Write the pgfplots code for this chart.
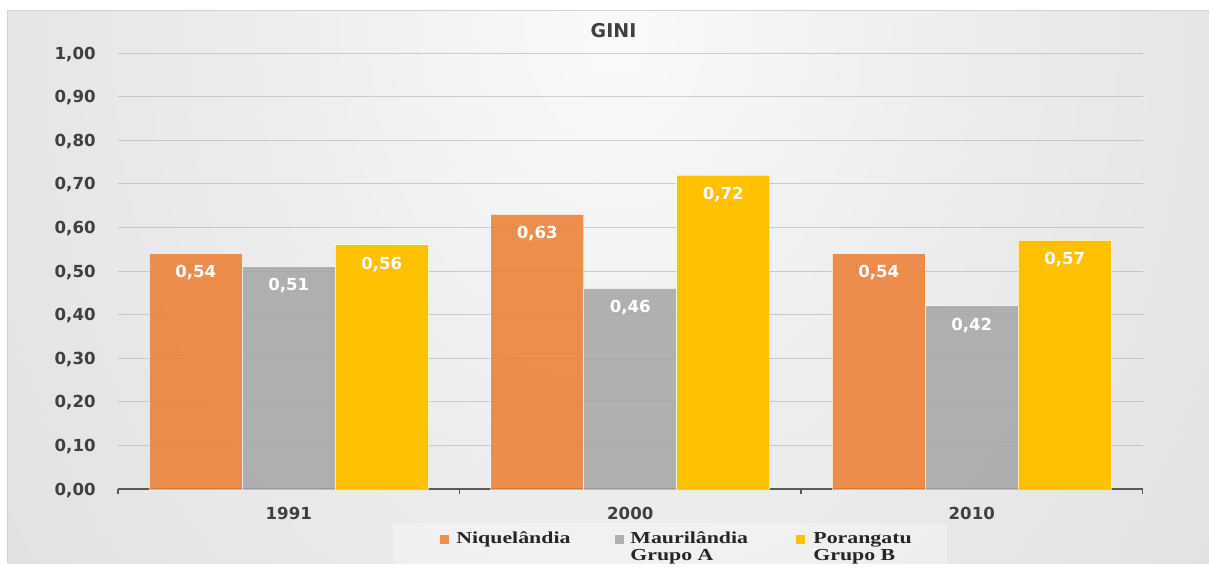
\documentclass[border=0pt]{standalone}
\usepackage{fontspec}
\setmainfont{DejaVu Sans}
\newfontfamily\legfont[FakeStretch=1.3]{Liberation Serif}
\usepackage{pgfplots}
\pgfplotsset{compat=1.18}
\definecolor{cOr}{HTML}{ED7D31}
\definecolor{cGr}{HTML}{A5A5A5}
\definecolor{cGo}{HTML}{FFC000}
\definecolor{cTx}{HTML}{404040}
\definecolor{cAx}{HTML}{595959}
\definecolor{cLg}{HTML}{262626}
\pgfdeclareradialshading{chartbg}{\pgfpoint{0bp}{0bp}}{color(0bp)=(gray!4); color(12bp)=(gray!14); color(25bp)=(gray!22); color(35bp)=(gray!30); color(44bp)=(gray!42); color(50bp)=(gray!48)}
\begin{document}
\begin{tikzpicture}
\begin{scope}[x=0.5pt,y=-0.5pt]
\useasboundingbox (0,0) rectangle (1209,563);
\fill[white] (0,0) rectangle (1209,563);
\begin{scope}
\clip (7.5,10) rectangle (1209,563);
\shade[shading=chartbg] (-85,-870) rectangle (1315,930);
\end{scope}
\draw[gray!35, line width=0.5pt] (1209,10) -- (7.5,10) -- (7.5,563);
\end{scope}
\begin{axis}[
  at={(59pt,-244.5pt)}, anchor=south west,
  scale only axis, width=512.25pt, height=218pt,
  xmin=-0.5, xmax=2.5, ymin=0, ymax=1,
  axis lines*=left,
  y axis line style={draw=none},
  x axis line style={draw=cAx, line width=0.75pt},
  xtick={0,1,2}, xticklabels={1991,2000,2010},
  minor xtick={-0.5,0.5,1.5,2.5},
  ytick={0,0.1,0.2,0.3,0.4,0.5,0.6,0.7,0.8,0.9,1},
  tick align=outside, major tick length=0pt, minor tick length=2.5pt,
  xtick style={draw=cAx, line width=0.75pt},
  ytick style={draw=none},
  ymajorgrids,
  major grid style={draw=gray!70, draw opacity=0.5, line width=0.5pt},
  scaled y ticks=false,
  /pgf/number format/use comma,
  /pgf/number format/fixed,
  /pgf/number format/fixed zerofill,
  /pgf/number format/precision=2,
  /pgf/number format/assume math mode=true,
  tick label style={font=\fontsize{8.3}{10}\selectfont\bfseries, text=cTx},
  yticklabel style={anchor=east, inner sep=0pt, xshift=-11pt, text depth=0pt},
  xticklabel style={anchor=north, inner sep=0pt, yshift=-8.85pt, text depth=0pt},
  title={GINI},
  every axis title/.style={at={(0.4837,1)}, anchor=base, yshift=7.65pt, inner sep=0pt, font=\fontsize{9.5}{11}\selectfont\bfseries, text=cTx},
  nodes near coords,
  every node near coord/.append style={font=\fontsize{8.3}{10}\selectfont\bfseries, text=white, text opacity=1, anchor=north, inner sep=0pt, yshift=-5.75pt, text depth=0pt},
]
\addplot[ybar, bar width=46.5pt, bar shift=-46.5pt, fill=cOr, fill opacity=0.85, draw=white, draw opacity=0.6, line width=0.5pt,
  every node near coord/.append style={xshift=-46.5pt}] coordinates {(0,0.54) (1,0.63) (2,0.54)};
\addplot[ybar, bar width=46.5pt, bar shift=0pt, fill=cGr, fill opacity=0.85, draw=white, draw opacity=0.6, line width=0.5pt] coordinates {(0,0.51) (1,0.46) (2,0.42)};
\addplot[ybar, bar width=46.5pt, bar shift=46.5pt, fill=cGo, draw=white, draw opacity=0.6, line width=0.5pt,
  every node near coord/.append style={xshift=46.5pt}] coordinates {(0,0.56) (1,0.72) (2,0.57)};
\end{axis}
\begin{scope}[x=0.5pt,y=-0.5pt]
\fill[white, fill opacity=0.3] (393,522.7) rectangle (947,570);
\fill[cOr, fill opacity=0.85] (440,534.5) rectangle (449,543.5);
\fill[cGr, fill opacity=0.85] (615,534.5) rectangle (624,543.5);
\fill[cGo] (796,534.5) rectangle (805,543.5);
\tikzset{lg/.style={anchor=base west, inner sep=0pt, text=cLg, font=\legfont\bfseries\fontsize{8.4}{10}\selectfont}}
\node[lg] at (456,543.3) {Niquelândia};
\node[lg] at (630,543.3) {Maurilândia};
\node[lg] at (630,560.3) {Grupo A};
\node[lg] at (813,543.3) {Porangatu};
\node[lg] at (813,560.3) {Grupo B};
\end{scope}
\end{tikzpicture}
\end{document}
